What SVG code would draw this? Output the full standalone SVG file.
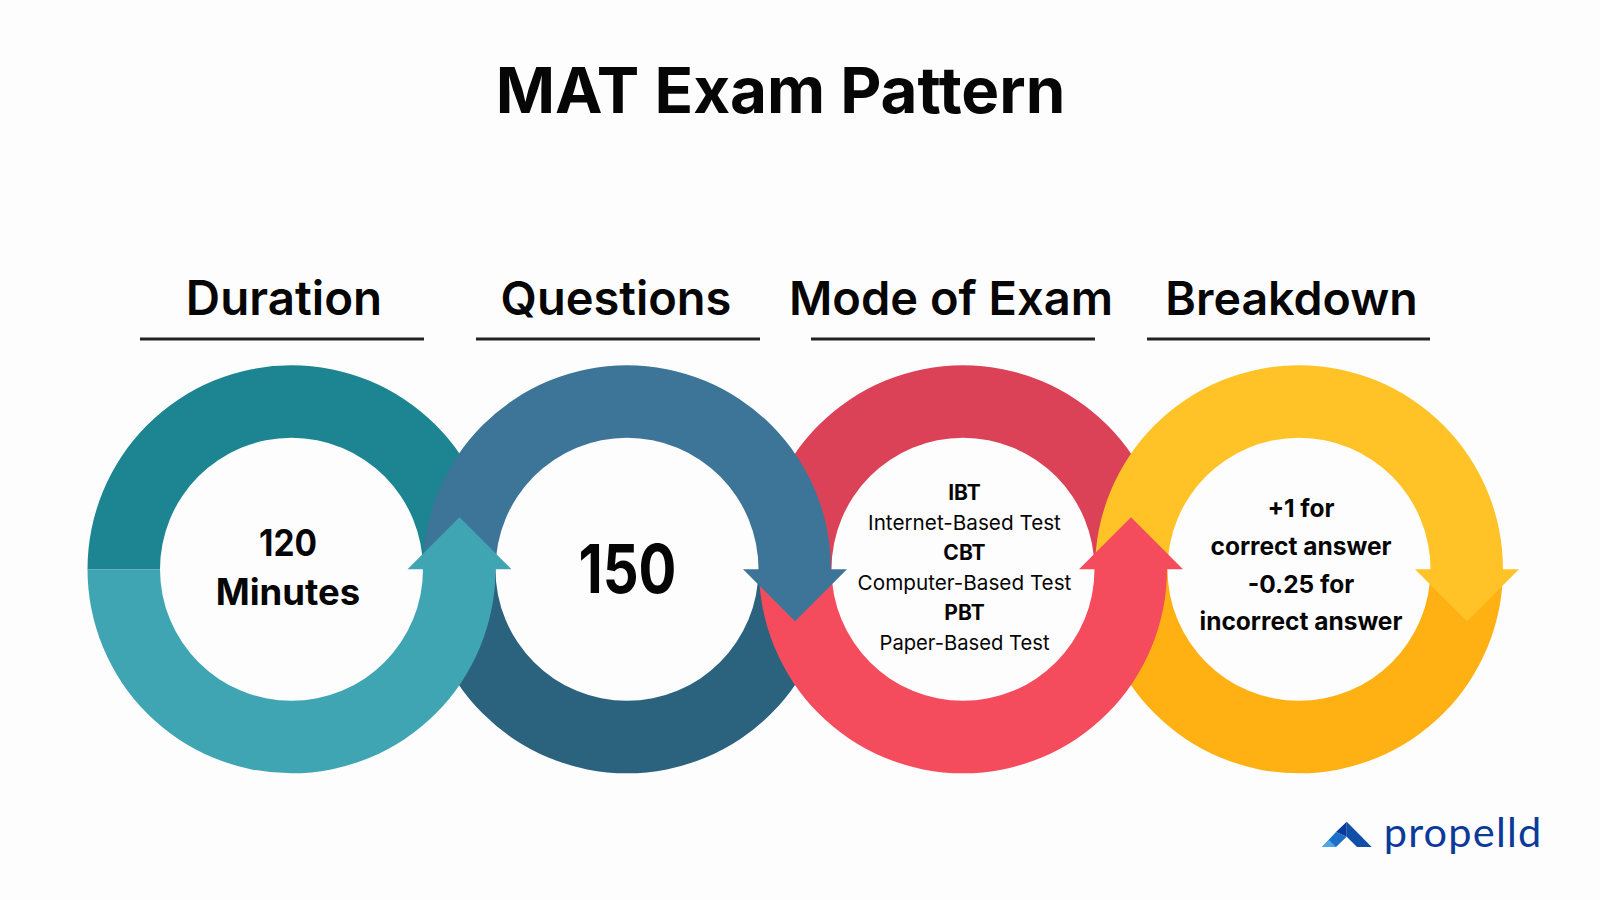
<svg xmlns="http://www.w3.org/2000/svg" width="1600" height="900" viewBox="0 0 1600 900">
<style>
text{font-family:Inter,"Noto Sans",sans-serif;fill:#060606;text-anchor:middle}
.title{font-size:63.7px;font-weight:700}
.head{font-size:47px;font-weight:600}
.big{font-size:36.5px;font-weight:700}
.num{font-size:68px;font-weight:700}
.b{font-size:21px;font-weight:700}
.r{font-size:20.7px;font-weight:400}
.m{font-size:24.5px;font-weight:700}
.rule{stroke:#222;stroke-width:3;fill:none}
</style>
<defs>
<path id="top" d="M-204 0A204 204 0 0 1 204 0H131.5A131.5 131.5 0 0 0 -131.5 0Z"/>
<path id="bottom" d="M-204 0A204 204 0 0 0 204 0H131.5A131.5 131.5 0 0 1 -131.5 0Z"/>
<path id="top-arrow" d="M-204 0A204 204 0 0 1 204 0H220L168 52L116 0H131.5A131.5 131.5 0 0 0 -131.5 0Z"/>
<path id="bottom-arrow" d="M-204 0A204 204 0 0 0 204 0H220L168 -52L116 0H131.5A131.5 131.5 0 0 1 -131.5 0Z"/>
</defs>
<rect width="1600" height="900" fill="#fefdfe"/>
<text class="title" x="780.5" y="113">MAT Exam Pattern</text>
<g id="connectors">
<use id="ring1-top" href="#top" x="291.5" y="569.3" fill="#1c8591"/>
<use id="ring3-top" href="#top" x="963" y="569.3" fill="#db4257"/>
<use id="ring2-bottom" href="#bottom" x="627" y="569.3" fill="#2b637f"/>
<use id="ring4-bottom" href="#bottom" x="1299" y="569.3" fill="#ffb114"/>
<use id="ring4-top" href="#top-arrow" x="1299" y="569.3" fill="#ffc327"/>
<use id="ring3-bottom" href="#bottom-arrow" x="963" y="569.3" fill="#f44b5d"/>
<use id="ring2-top" href="#top-arrow" x="627" y="569.3" fill="#3d7599"/>
<use id="ring1-bottom" href="#bottom-arrow" x="291.5" y="569.3" fill="#3fa5b3"/>
</g>
<g id="node-duration">
<text class="head" x="284" y="315" style="font-size:47.5px">Duration</text>
<line class="rule" x1="140" y1="339" x2="424" y2="339"/>
<text class="big" x="288" y="556" textLength="58" lengthAdjust="spacingAndGlyphs">120</text>
<text class="big" x="288" y="605">Minutes</text>
</g>
<g id="node-questions">
<text class="head" x="616" y="315">Questions</text>
<line class="rule" x1="476" y1="339" x2="760" y2="339"/>
<text class="num" x="627.5" y="593" textLength="98" lengthAdjust="spacingAndGlyphs">150</text>
</g>
<g id="node-mode">
<text class="head" x="951" y="315">Mode of Exam</text>
<line class="rule" x1="811" y1="339" x2="1095" y2="339"/>
<text class="b" x="964.5" y="500">IBT</text>
<text class="r" x="964.5" y="530">Internet-Based Test</text>
<text class="b" x="964.5" y="560">CBT</text>
<text class="r" x="964.5" y="590">Computer-Based Test</text>
<text class="b" x="964.5" y="619.5">PBT</text>
<text class="r" x="964.5" y="650" textLength="170" lengthAdjust="spacingAndGlyphs">Paper-Based Test</text>
</g>
<g id="node-breakdown">
<text class="head" x="1291.5" y="315" style="font-size:46.5px">Breakdown</text>
<line class="rule" x1="1147" y1="339" x2="1430" y2="339"/>
<text class="m" x="1301" y="517">+1 for</text>
<text class="m" x="1301" y="555">correct answer</text>
<text class="m" x="1301" y="592.5">-0.25 for</text>
<text class="m" x="1301" y="630">incorrect answer</text>
</g>
<g id="logo">
<path d="M1346.7 821.7L1371.7 847H1357L1346.7 836.7Z" fill="#0f4fa8"/>
<path d="M1346.7 821.7L1336 832L1346.7 836.7Z" fill="#0a3a9c"/>
<path d="M1336 832L1346.7 836.7L1336 847H1322Z" fill="#1e6fc8"/>
<path d="M1329 840L1336 847H1322Z" fill="#4fa6e6"/>
<text x="1463" y="847" style="font-family:Lato,sans-serif;font-size:41.5px;fill:#0b3a9a;letter-spacing:1.2px">propelld</text>
</g>
</svg>
